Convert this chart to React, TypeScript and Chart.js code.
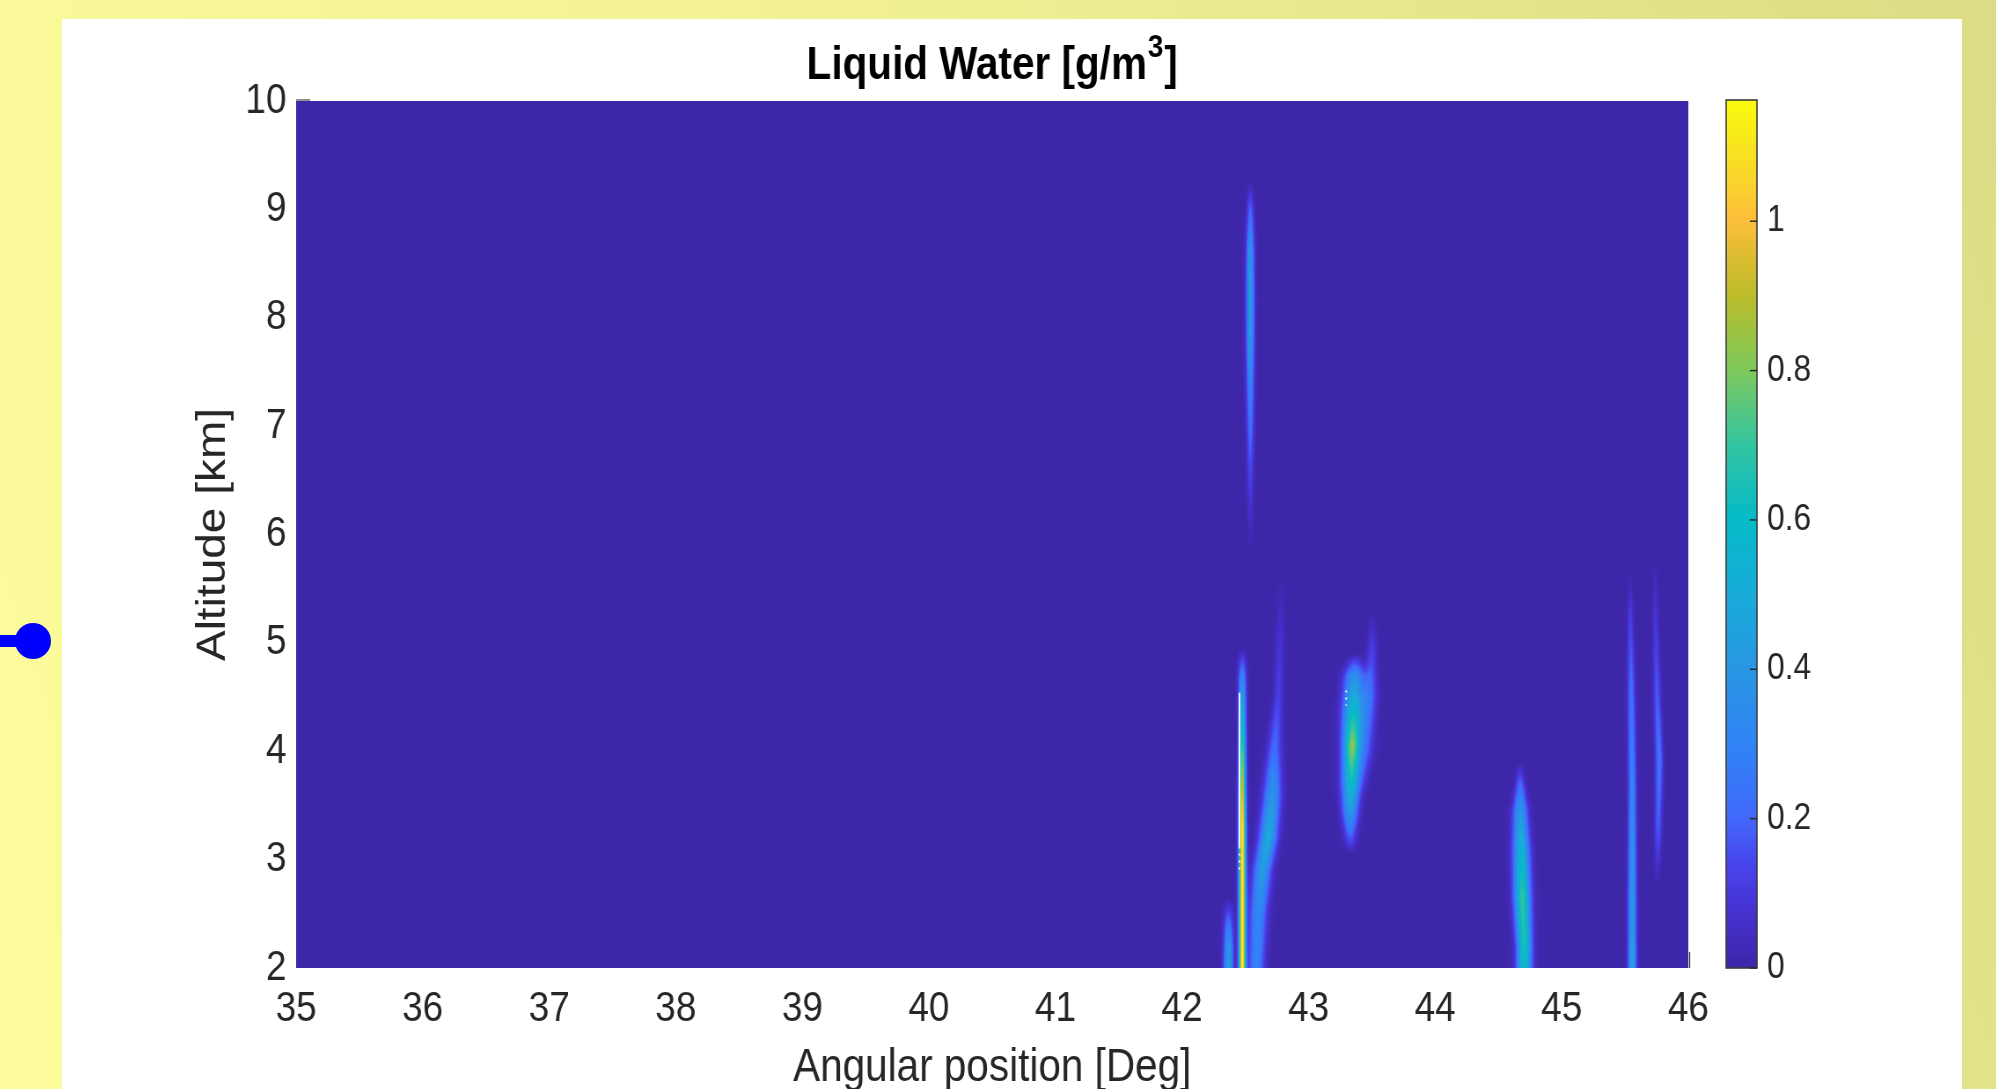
import React, { useEffect, useRef } from "react";
import { Chart, registerables } from "chart.js";

Chart.register(...registerables);

const FONT = '"Liberation Sans", Arial, Helvetica, sans-serif';

// ---- axes ----
const xTicks = [35, 36, 37, 38, 39, 40, 41, 42, 43, 44, 45, 46];
const yTicks = [2, 3, 4, 5, 6, 7, 8, 9, 10];
const colorTicks = [0, 0.2, 0.4, 0.6, 0.8, 1];
const xLimits = [35, 46];
const yLimits = [2, 10];
const colorLimits = [0, 1.161];

// ---- liquid-water streaks (read along each streak, top -> bottom) ----
// altitude [km]
const streakAltitude = [
  [9.28, 9.0, 8.6, 8.2, 7.8, 7.4, 6.9, 6.4, 5.8],
  [4.95, 4.7, 4.4, 4.0, 3.6, 3.3, 2.0],
  [2.65, 2.4, 2.2, 2.0],
  [5.65, 5.2, 4.5, 4.0, 3.6, 3.2, 2.9, 2.5, 2.0],
  [4.9, 4.7, 4.35, 4.05, 3.75, 3.45, 3.15, 3.05],
  [5.3, 5.0, 4.5, 4.0, 3.6],
  [3.9, 3.7, 3.45, 3.1, 2.65, 2.2, 2.0],
  [5.65, 5.3, 4.6, 3.7, 2.8, 2.0],
  [5.8, 5.3, 4.5, 3.9, 3.3, 2.75],
];
// angular position of the streak centre [deg]
const streakPosition = [
  [42.539, 42.539, 42.539, 42.539, 42.539, 42.539, 42.539, 42.539, 42.539],
  [42.476, 42.476, 42.476, 42.476, 42.476, 42.476, 42.476],
  [42.367, 42.367, 42.367, 42.367],
  [42.784, 42.776, 42.76, 42.729, 42.713, 42.681, 42.634, 42.602, 42.586],
  [43.369, 43.361, 43.353, 43.345, 43.337, 43.329, 43.329, 43.329],
  [43.503, 43.503, 43.479, 43.456, 43.424],
  [44.672, 44.672, 44.672, 44.68, 44.688, 44.704, 44.704],
  [45.542, 45.542, 45.549, 45.557, 45.557, 45.557],
  [45.739, 45.739, 45.754, 45.77, 45.762, 45.754],
];
// liquid water at the streak centre [g/m^3]
const streakValue = [
  [0, 0.18, 0.38, 0.44, 0.4, 0.3, 0.2, 0.1, 0],
  [0, 0.3, 0.5, 0.74, 0.97, 1.1, 1.12],
  [0, 0.25, 0.4, 0.45],
  [0, 0.06, 0.12, 0.22, 0.38, 0.5, 0.42, 0.32, 0.3],
  [0, 0.36, 0.62, 0.82, 0.64, 0.42, 0.12, 0],
  [0, 0.1, 0.22, 0.15, 0],
  [0, 0.2, 0.4, 0.55, 0.7, 0.65, 0.6],
  [0, 0.1, 0.22, 0.32, 0.4, 0.47],
  [0, 0.08, 0.18, 0.25, 0.18, 0],
];
// horizontal spread of each streak [deg]
const streakSpread = [
  [0.014, 0.02, 0.022, 0.022, 0.022, 0.022, 0.02, 0.018, 0.014],
  [0.022, 0.022, 0.02, 0.019, 0.019, 0.019, 0.019],
  [0.026, 0.026, 0.026, 0.026],
  [0.016, 0.024, 0.026, 0.04, 0.048, 0.048, 0.048, 0.048, 0.042],
  [0.036, 0.056, 0.056, 0.05, 0.05, 0.044, 0.032, 0.026],
  [0.018, 0.026, 0.042, 0.042, 0.034],
  [0.014, 0.026, 0.04, 0.044, 0.044, 0.04, 0.04],
  [0.012, 0.017, 0.021, 0.021, 0.022, 0.022],
  [0.012, 0.016, 0.021, 0.021, 0.021, 0.016],
];

// ---- missing-data gaps (white) ----
const gapPosition = [42.454, 42.454, 43.297];
const gapTop = [4.54, 3.12, 4.56];
const gapBottom = [3.12, 2.89, 4.42];
const gapDotted = [false, true, true];

// ---- parula colormap ----
const parulaStops = [0, 0.06, 0.12, 0.172, 0.25, 0.345, 0.43, 0.517, 0.6, 0.69, 0.78, 0.861, 0.93, 1];
const parulaColors = [
  [62, 38, 168],
  [69, 48, 205],
  [72, 68, 236],
  [66, 104, 251],
  [49, 130, 246],
  [40, 150, 226],
  [25, 172, 218],
  [5, 186, 200],
  [48, 196, 163],
  [126, 201, 92],
  [190, 188, 40],
  [252, 190, 58],
  [248, 221, 37],
  [249, 251, 14],
];

function buildLut(): Uint8ClampedArray {
  const lut = new Uint8ClampedArray(256 * 3);
  for (let i = 0; i < 256; i++) {
    const t = i / 255;
    let k = 0;
    while (k < parulaStops.length - 2 && t > parulaStops[k + 1]) k++;
    const f = Math.min(1, Math.max(0, (t - parulaStops[k]) / (parulaStops[k + 1] - parulaStops[k])));
    for (let c = 0; c < 3; c++) {
      lut[i * 3 + c] = parulaColors[k][c] + f * (parulaColors[k + 1][c] - parulaColors[k][c]);
    }
  }
  return lut;
}
const LUT = buildLut();

function lutIndex(v: number): number {
  const t = (v - colorLimits[0]) / (colorLimits[1] - colorLimits[0]);
  return Math.max(0, Math.min(255, Math.round(t * 255)));
}

function sampleStreak(s: number, alt: number) {
  const A = streakAltitude[s];
  if (alt > A[0] || alt < A[A.length - 1]) return null;
  for (let k = 0; k < A.length - 1; k++) {
    if (alt <= A[k] && alt >= A[k + 1]) {
      const f = (A[k] - alt) / (A[k] - A[k + 1]);
      const P = streakPosition[s], V = streakValue[s], W = streakSpread[s];
      return {
        c: P[k] + f * (P[k + 1] - P[k]),
        v: V[k] + f * (V[k + 1] - V[k]),
        w: W[k] + f * (W[k + 1] - W[k]),
      };
    }
  }
  return null;
}

const heatmapPlugin = {
  id: "heatmap",
  beforeDatasetsDraw(chart: any) {
    const { ctx, chartArea: a, scales } = chart;
    const xs = scales.x, ys = scales.y;
    const left = Math.round(a.left), top = Math.round(a.top);
    const w = Math.round(a.right) - left, h = Math.round(a.bottom) - top;
    const off = document.createElement("canvas");
    off.width = w;
    off.height = h;
    const octx = off.getContext("2d")!;
    const img = octx.createImageData(w, h);
    const data = img.data;
    const colDeg = new Float64Array(w);
    for (let i = 0; i < w; i++) colDeg[i] = xs.getValueForPixel(left + i + 0.5);
    const row = new Float64Array(w);
    for (let j = 0; j < h; j++) {
      const alt = ys.getValueForPixel(top + j + 0.5);
      row.fill(0);
      for (let s = 0; s < streakAltitude.length; s++) {
        const p = sampleStreak(s, alt);
        if (!p || p.v <= 0) continue;
        const x0 = xs.getPixelForValue(p.c - 4.5 * p.w) - left;
        const x1 = xs.getPixelForValue(p.c + 4.5 * p.w) - left;
        const i0 = Math.max(0, Math.floor(x0)), i1 = Math.min(w - 1, Math.ceil(x1));
        for (let i = i0; i <= i1; i++) {
          const d = (colDeg[i] - p.c) / p.w;
          row[i] += p.v * Math.exp(-0.5 * d * d);
        }
      }
      for (let i = 0; i < w; i++) {
        const k = lutIndex(row[i]) * 3;
        const o = (j * w + i) * 4;
        data[o] = LUT[k];
        data[o + 1] = LUT[k + 1];
        data[o + 2] = LUT[k + 2];
        data[o + 3] = 255;
      }
    }
    octx.putImageData(img, 0, 0);
    ctx.save();
    ctx.drawImage(off, left, top);
    // gaps
    ctx.strokeStyle = "#ffffff";
    ctx.lineWidth = 1.8;
    for (let g = 0; g < gapPosition.length; g++) {
      const gx = xs.getPixelForValue(gapPosition[g]);
      ctx.setLineDash(gapDotted[g] ? [2, 5] : []);
      ctx.beginPath();
      ctx.moveTo(gx, ys.getPixelForValue(gapTop[g]));
      ctx.lineTo(gx, ys.getPixelForValue(gapBottom[g]));
      ctx.stroke();
    }
    ctx.restore();
  },
  afterDraw(chart: any) {
    const { ctx, chartArea: a, scales } = chart;
    const cb = scales.cb;
    // colorbar
    const bx0 = a.right + 43, bx1 = a.right + 78;
    const by0 = cb.getPixelForValue(colorLimits[1]) - 1;
    const by1 = cb.getPixelForValue(colorLimits[0]);
    ctx.save();
    for (let yy = Math.floor(by0); yy < Math.ceil(by1); yy++) {
      const v = cb.getValueForPixel(yy + 0.5);
      const k = lutIndex(v) * 3;
      ctx.fillStyle = `rgb(${LUT[k]},${LUT[k + 1]},${LUT[k + 2]})`;
      ctx.fillRect(bx0, yy, bx1 - bx0, 1);
    }
    ctx.strokeStyle = "#3a3a3a";
    ctx.lineWidth = 1.6;
    ctx.strokeRect(bx0, by0, bx1 - bx0, by1 - by0);
    ctx.strokeStyle = "#262626";
    ctx.lineWidth = 1.4;
    for (const t of colorTicks) {
      const ty = cb.getPixelForValue(t);
      ctx.beginPath();
      ctx.moveTo(bx1, ty);
      ctx.lineTo(bx1 - 8, ty);
      ctx.stroke();
    }
    // small axis ticks peeking outside the image (top-left, bottom-right)
    ctx.strokeStyle = "#262626";
    ctx.lineWidth = 1.2;
    ctx.beginPath();
    ctx.moveTo(a.left, a.top - 1);
    ctx.lineTo(a.left + 16, a.top - 1);
    ctx.moveTo(a.right + 1.5, a.bottom);
    ctx.lineTo(a.right + 1.5, a.bottom - 16);
    ctx.stroke();
    // title with superscript
    const main = "Liquid Water [g/m";
    const sup = "3";
    const end = "]";
    ctx.fillStyle = "#000000";
    ctx.textBaseline = "alphabetic";
    ctx.textAlign = "left";
    ctx.font = `bold 46px ${FONT}`;
    const w1 = ctx.measureText(main).width;
    const w3 = ctx.measureText(end).width;
    ctx.font = `bold 32px ${FONT}`;
    const w2 = ctx.measureText(sup).width;
    const total = w1 + w2 + w3 + 2;
    const x0 = (a.left + a.right) / 2 - total / 2;
    ctx.font = `bold 46px ${FONT}`;
    ctx.fillText(main, x0, 60);
    ctx.fillText(end, x0 + w1 + w2 + 2, 60);
    ctx.font = `bold 32px ${FONT}`;
    ctx.fillText(sup, x0 + w1 + 1, 38);
    ctx.restore();
  },
};

const CANVAS_W = 2159;
const CANVAS_H = 1070;

export default function App() {
  const ref = useRef<HTMLCanvasElement | null>(null);

  useEffect(() => {
    if (!ref.current) return;
    const tickFont = { family: FONT, size: 42 };
    const chart = new Chart(ref.current, {
      type: "scatter",
      data: { datasets: [] },
      plugins: [heatmapPlugin],
      options: {
        animation: false,
        responsive: false,
        maintainAspectRatio: false,
        devicePixelRatio: 1,
        events: [],
        layout: { padding: { top: 82, left: 0, right: 0, bottom: 0 } },
        plugins: { legend: { display: false }, tooltip: { enabled: false }, title: { display: false } },
        scales: {
          x: {
            type: "linear",
            position: "bottom",
            min: xLimits[0],
            max: xLimits[1],
            afterBuildTicks: (s: any) => {
              s.ticks = xTicks.map((v) => ({ value: v }));
            },
            afterFit: (s: any) => {
              s.height = 121;
            },
            grid: { display: false, drawTicks: false },
            border: { display: false },
            ticks: { font: tickFont, color: "#262626", padding: 16, maxRotation: 0, autoSkip: false },
            title: {
              display: true,
              text: "Angular position [Deg]",
              color: "#262626",
              font: { family: FONT, size: 46, lineHeight: 0.9 },
              padding: { top: 0, bottom: 0 },
            },
          },
          y: {
            type: "linear",
            position: "left",
            min: yLimits[0],
            max: yLimits[1],
            afterBuildTicks: (s: any) => {
              s.ticks = yTicks.map((v) => ({ value: v }));
            },
            afterFit: (s: any) => {
              s.width = 266;
              s.paddingTop = 0;
              s.paddingBottom = 0;
            },
            grid: { display: false, drawTicks: false },
            border: { display: false },
            ticks: { font: tickFont, color: "#262626", padding: 11, autoSkip: false },
            title: {
              display: true,
              text: "Altitude [km]",
              color: "#262626",
              font: { family: FONT, size: 46, lineHeight: 1 },
              padding: { top: 149, bottom: 0 },
            },
          },
          cb: {
            type: "linear",
            position: "right",
            min: colorLimits[0],
            max: colorLimits[1],
            afterBuildTicks: (s: any) => {
              s.ticks = colorTicks.map((v) => ({ value: v }));
            },
            afterFit: (s: any) => {
              s.width = 311;
              s.paddingTop = 0;
              s.paddingBottom = 0;
            },
            grid: { display: false, drawTicks: false },
            border: { display: false },
            ticks: {
              font: { family: FONT, size: 36 },
              color: "#262626",
              padding: 89.5,
              autoSkip: false,
              callback: (v: any) => String(Math.round(Number(v) * 10) / 10),
            },
          },
        },
      } as any,
    });
    return () => chart.destroy();
  }, []);

  return (
    <div
      style={{
        position: "fixed",
        left: 0,
        top: 0,
        width: 1996,
        height: 1089,
        overflow: "hidden",
        background: "linear-gradient(72deg, #fcfc9c 0%, #f3f395 45%, #dcdc86 100%)",
      }}
    >
      <div
        style={{
          position: "absolute",
          left: 0,
          top: 635,
          width: 33,
          height: 12,
          background: "#0000ff",
        }}
      />
      <div
        style={{
          position: "absolute",
          left: 15,
          top: 623,
          width: 36,
          height: 36,
          borderRadius: "50%",
          background: "#0000ff",
        }}
      />
      <div
        style={{
          position: "absolute",
          left: 62,
          top: 19,
          width: 1900,
          height: 1070,
          background: "#ffffff",
          overflow: "hidden",
        }}
      >
        <div
          style={{
            width: CANVAS_W,
            height: CANVAS_H,
            transform: `scaleX(${1900 / CANVAS_W})`,
            transformOrigin: "0 0",
          }}
        >
          <canvas ref={ref} width={CANVAS_W} height={CANVAS_H} />
        </div>
      </div>
    </div>
  );
}
